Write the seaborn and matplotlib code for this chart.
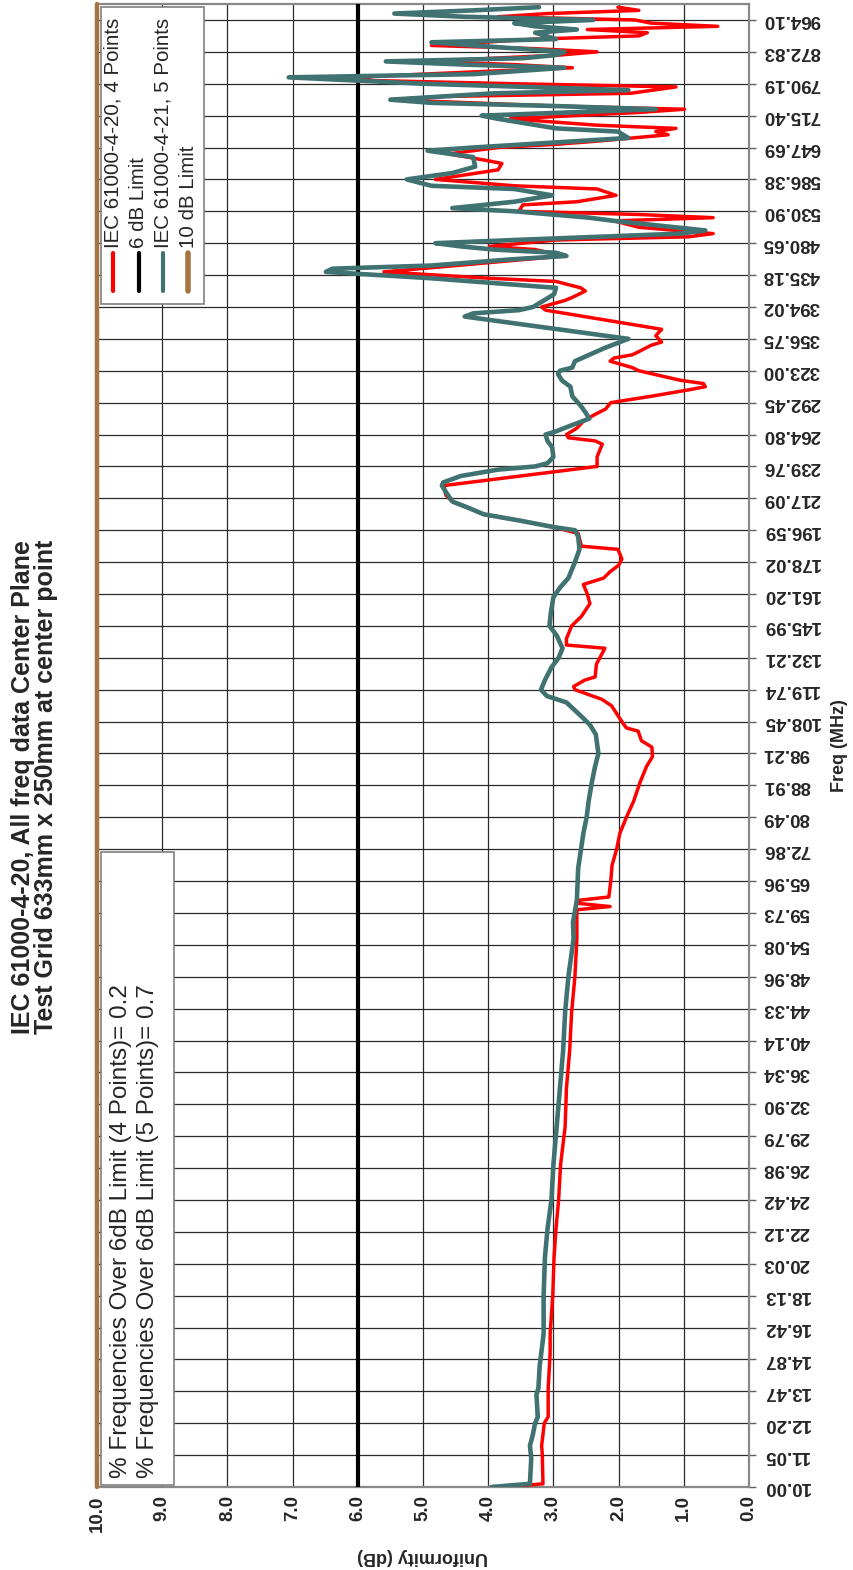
import matplotlib
matplotlib.use("Agg")
import matplotlib.pyplot as plt
from matplotlib.patches import Rectangle
from matplotlib.lines import Line2D
import numpy as np
import pandas as pd
import seaborn as sns

# Frequency sweep: one measurement per step, a label every 10th step
freq_labels = ["10.00", "11.05", "12.20", "13.47", "14.87", "16.42", "18.13",
               "20.03", "22.12", "24.42", "26.98", "29.79", "32.90", "36.34",
               "40.14", "44.33", "48.96", "54.08", "59.73", "65.96", "72.86",
               "80.49", "88.91", "98.21", "108.45", "119.74", "132.21",
               "145.99", "161.20", "178.02", "196.59", "217.09", "239.76",
               "264.80", "292.45", "323.00", "356.75", "394.02", "435.18",
               "480.65", "530.90", "586.38", "647.69", "715.40", "790.19",
               "872.83", "964.10"]
label_every = 10
last_step = 465

# IEC 61000-4-20, 4 points (sweep step, uniformity dB)
red_step = [0, 1, 10, 13, 20, 22, 31, 42, 48, 60,
            72, 81, 90, 101, 113, 125, 137, 149, 160, 172,
            181, 182, 183, 184, 185, 190, 195, 200, 205, 210,
            215, 221, 226, 229, 232, 234, 237, 238, 240, 245,
            247, 250, 251, 253, 254, 258, 263, 264, 266, 270,
            273, 277, 280, 283, 285, 287, 289, 291, 294, 295,
            299, 301, 303, 305, 307, 309, 311, 314, 320, 323,
            327, 328, 329, 330, 332, 334, 336, 338, 340, 342,
            344, 345, 346, 347, 350, 351, 353, 354, 355, 356,
            358, 359, 361, 363, 369, 370, 372, 373, 375, 376,
            378, 379, 381, 386, 388, 389, 391, 392, 393, 395,
            397, 398, 399, 400, 402, 403, 405, 407, 408, 410,
            412, 413, 415, 416, 418, 420, 421, 422, 424, 425,
            426, 427, 429, 431, 432, 433, 435, 436, 437, 439,
            440, 441, 442, 444, 445, 446, 447, 449, 450, 451,
            452, 454, 455, 456, 457, 458, 459, 460, 461, 462,
            463, 464]
red_db = [3.75, 3.16, 3.17, 3.18, 3.14, 3.08, 3.08, 3.05, 3.05, 3.01,
          2.99, 2.96, 2.92, 2.89, 2.82, 2.80, 2.75, 2.72, 2.67, 2.64,
          2.64, 2.13, 2.62, 2.60, 2.15, 2.12, 2.10, 2.03, 1.98, 1.88,
          1.77, 1.67, 1.57, 1.48, 1.49, 1.65, 1.70, 1.88, 1.95, 2.11,
          2.26, 2.67, 2.69, 2.52, 2.36, 2.34, 2.21, 2.80, 2.80, 2.72,
          2.57, 2.44, 2.48, 2.54, 2.23, 2.13, 2.00, 1.95, 2.01, 2.57,
          2.62, 3.00, 3.51, 4.07, 4.30, 4.55, 4.65, 4.68, 2.33, 2.33,
          2.25, 2.36, 2.77, 2.80, 2.64, 2.55, 2.39, 2.20, 2.12, 1.50,
          0.93, 0.67, 0.70, 1.05, 1.69, 1.79, 2.13, 2.07, 1.79, 1.69,
          1.50, 1.34, 1.43, 1.34, 3.12, 3.18, 2.83, 2.71, 2.51, 2.58,
          2.96, 3.98, 5.60, 2.83, 3.28, 3.98, 2.96, 0.93, 0.55, 1.69,
          2.07, 0.55, 1.69, 3.53, 3.47, 2.64, 2.04, 2.33, 3.60, 4.81,
          4.17, 3.85, 3.79, 4.04, 4.61, 3.85, 2.96, 2.33, 1.24, 1.43,
          1.12, 2.33, 3.66, 1.69, 0.99, 2.96, 5.50, 4.68, 1.82, 1.12,
          3.60, 5.76, 6.10, 3.91, 2.71, 3.60, 4.93, 2.90, 2.33, 3.28,
          4.87, 3.28, 1.69, 1.56, 2.48, 0.48, 1.50, 1.75, 3.85, 3.09,
          1.69, 2.01]

# IEC 61000-4-21, 5 points (sweep step, uniformity dB)
teal_step = [0, 1, 9, 13, 16, 20, 22, 29, 31, 38,
             43, 48, 60, 72, 81, 90, 101, 113, 125, 137,
             149, 160, 172, 177, 184, 194, 205, 210, 215, 221,
             226, 230, 236, 239, 242, 246, 248, 250, 253, 257,
             260, 263, 267, 270, 274, 279, 282, 285, 290, 294,
             298, 300, 301, 303, 305, 307, 309, 312, 314, 315,
             317, 319, 320, 321, 323, 326, 328, 330, 331, 333,
             335, 337, 339, 342, 345, 347, 349, 350, 351, 353,
             355, 357, 359, 360, 367, 368, 369, 370, 372, 374,
             376, 377, 379, 381, 382, 383, 385, 386, 387, 388,
             389, 390, 391, 393, 394, 397, 398, 400, 401, 403,
             405, 407, 408, 410, 412, 414, 417, 419, 420, 422,
             423, 425, 426, 429, 430, 432, 433, 434, 435, 437,
             438, 440, 441, 442, 443, 445, 446, 447, 448, 449,
             450, 452, 453, 454, 456, 457, 458, 459, 460, 461,
             462, 463, 464]
teal_db = [3.95, 3.36, 3.34, 3.36, 3.32, 3.28, 3.24, 3.26, 3.23, 3.21,
           3.18, 3.15, 3.15, 3.13, 3.09, 3.03, 3.00, 2.95, 2.90, 2.85,
           2.82, 2.77, 2.69, 2.70, 2.64, 2.62, 2.54, 2.49, 2.46, 2.41,
           2.36, 2.31, 2.35, 2.44, 2.59, 2.80, 3.10, 3.19, 3.13, 3.03,
           2.92, 2.86, 2.95, 3.06, 3.04, 3.00, 2.90, 2.77, 2.67, 2.60,
           2.62, 2.67, 3.00, 3.51, 4.07, 4.30, 4.55, 4.65, 4.71, 4.69,
           4.42, 3.85, 3.28, 3.09, 3.00, 3.02, 3.09, 3.12, 2.96, 2.71,
           2.45, 2.51, 2.58, 2.71, 2.74, 2.87, 2.93, 2.90, 2.71, 2.67,
           2.45, 2.23, 1.98, 1.85, 4.36, 4.23, 3.53, 3.31, 3.15, 2.99,
           2.96, 3.60, 4.87, 6.49, 6.39, 4.87, 3.60, 2.80, 2.96, 3.91,
           4.42, 4.81, 3.60, 1.05, 0.67, 2.07, 2.45, 3.60, 4.55, 3.60,
           3.02, 3.60, 4.87, 5.25, 4.55, 4.20, 4.23, 4.93, 4.23, 2.64,
           1.85, 2.01, 2.96, 3.85, 4.10, 1.43, 2.96, 4.87, 5.50, 3.91,
           1.85, 4.99, 6.01, 7.06, 4.23, 2.83, 4.36, 5.57, 3.47, 2.96,
           2.83, 4.23, 4.87, 2.96, 3.28, 2.64, 3.28, 3.60, 2.39, 4.36,
           5.44, 4.23, 3.22]

limit_6db = 6.0
limit_10db = 10.0
pct_over_4pt = 0.2
pct_over_5pt = 0.7

series_names = ["IEC 61000-4-20, 4 Points", "6 dB Limit",
                "IEC 61000-4-21, 5 Points", "10 dB Limit"]
series_colors = ["#FF0000", "#000000", "#407272", "#A6743F"]
title_lines = ["IEC 61000-4-20, All freq data Center Plane",
               "Test Grid 633mm x 250mm at center point"]

sns.set_style("white")
plt.rcParams["font.family"] = ["Liberation Sans", "DejaVu Sans"]

W, H = 854, 1570
fig = plt.figure(figsize=(W / 100, H / 100), dpi=100)


def fx(px):
    return px / W


def fy(py):
    return 1 - py / H


ax = fig.add_axes([fx(97), fy(1487), fx(749) - fx(97), fy(4) - fy(1487)])

red_df = pd.DataFrame({"step": red_step, "dB": red_db})
teal_df = pd.DataFrame({"step": teal_step, "dB": teal_db})
span = [0, last_step]

sns.lineplot(data=red_df, x="dB", y="step", orient="y", sort=False,
             estimator=None, color=series_colors[0], lw=2.5, ax=ax, zorder=3)
sns.lineplot(x=[limit_6db, limit_6db], y=span, orient="y", sort=False,
             estimator=None, color=series_colors[1], lw=3.0, ax=ax, zorder=3)
sns.lineplot(data=teal_df, x="dB", y="step", orient="y", sort=False,
             estimator=None, color=series_colors[2], lw=3.3, ax=ax, zorder=4)
sns.lineplot(x=[limit_10db, limit_10db], y=span, orient="y", sort=False,
             estimator=None, color=series_colors[3], lw=3.2, ax=ax, zorder=5,
             clip_on=False)

ax.set_xlim(10, 0)
ax.set_ylim(0, last_step)
ax.set_xticks(np.arange(0, 11, 1))
ax.set_xticklabels([f"{v:.1f}" for v in np.arange(0, 11, 1)])
ax.set_yticks(np.arange(len(freq_labels)) * label_every)
ax.set_yticklabels(freq_labels)
ax.yaxis.tick_right()

ax.tick_params(axis="x", direction="out", length=4, width=1.0,
               color="#808080", labelsize=13.5, pad=2, labelrotation=90)
ax.tick_params(axis="y", direction="out", length=5, width=1.0,
               color="#606060", labelsize=13.5, pad=5, labelrotation=180,
               right=True, left=False, labelright=True, labelleft=False)
for lab in ax.get_xticklabels():
    lab.set_fontweight("bold")
for lab in ax.get_yticklabels():
    lab.set_fontweight("bold")
    lab.set_va("center")

ax.grid(True, color="#2a2a2a", lw=0.9)
ax.set_axisbelow(True)
for side, sp in ax.spines.items():
    sp.set_color("#888888")
    sp.set_linewidth(1.6)

ax.set_xlabel("Uniformity (dB)", rotation=180, fontsize=13,
              fontweight="bold")
ax.xaxis.set_label_coords(0.5, (1487 - 1557) / 1483)
ax.xaxis.label.set_va("center")
ax.set_ylabel("Freq (MHz)", rotation=90, fontsize=13, fontweight="bold")
ax.yaxis.set_label_position("right")
ax.yaxis.set_label_coords((840 - 97) / 652, 0.5)
ax.yaxis.label.set_va("center")
ax.yaxis.label.set_ha("center")

# Title, vertical, centred on the figure
for px, line in zip([23, 46], title_lines):
    fig.text(fx(px), fy(787), line, rotation=90, ha="center", va="center",
             fontsize=18, fontweight="bold")

# Legend box with vertical entries
fig.add_artist(Rectangle((fx(101), fy(304)), fx(204) - fx(101),
                         fy(7) - fy(304), transform=fig.transFigure,
                         facecolor="white", edgecolor="#808080", lw=1.2,
                         zorder=6))
for k, (name, col) in enumerate(zip(series_names, series_colors)):
    cx = 113.5 + 25 * k
    fig.add_artist(Line2D([fx(cx), fx(cx)], [fy(253), fy(291)],
                          transform=fig.transFigure, color=col,
                          lw=3.0 if k < 3 else 4.0,
                          solid_capstyle="round", zorder=7))
    fig.text(fx(cx), fy(248), name, rotation=90, rotation_mode="anchor",
             ha="left", va="center", fontsize=14.8, zorder=7)

# Text box with the over-limit percentages
fig.add_artist(Rectangle((fx(101), fy(1485)), fx(174) - fx(101),
                         fy(852) - fy(1485), transform=fig.transFigure,
                         facecolor="white", edgecolor="#808080", lw=1.2,
                         zorder=6))
notes = [f"% Frequencies Over 6dB Limit (4 Points)= {pct_over_4pt:.1f}",
         f"% Frequencies Over 6dB Limit (5 Points)= {pct_over_5pt:.1f}"]
for px, line in zip([121, 148], notes):
    fig.text(fx(px), fy(1478), line, rotation=90, rotation_mode="anchor",
             ha="left", va="center", fontsize=17.5, zorder=7)

fig.savefig("out.png", dpi=100)
